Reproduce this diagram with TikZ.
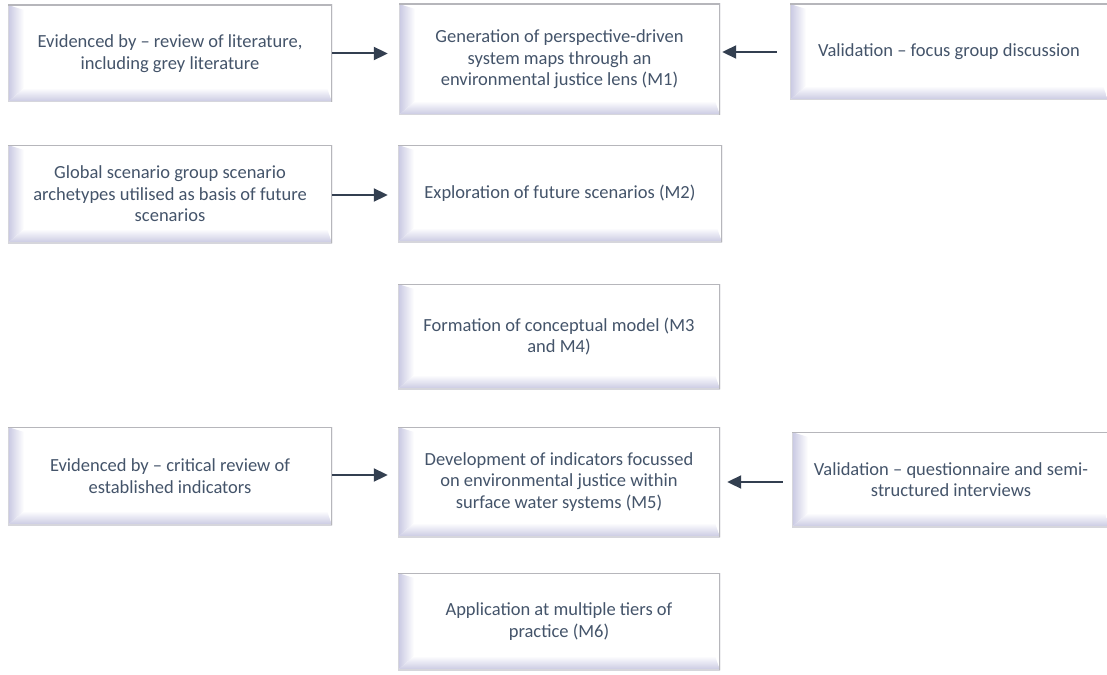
\documentclass[tikz,border=0pt]{standalone}
\usepackage{fontspec}
\setmainfont{Carlito}
\usetikzlibrary{arrows.meta,calc}

\definecolor{txt}{HTML}{44546A}
\definecolor{arrowc}{HTML}{333F50}
\definecolor{lav}{RGB}{200,200,226}
\definecolor{rim}{RGB}{214,214,220}

\tikzset{
  bevel/.style={
    fill=white, inner sep=0pt, align=center, text=txt,
    font=\fontsize{18.5}{21.5}\selectfont,
    path picture={
      \path (path picture bounding box.south west) coordinate (bSW)
            (path picture bounding box.north east) coordinate (bNE);
      \path (bSW |- bNE) coordinate (bNW) (bNE |- bSW) coordinate (bSE);
      % shaded left face
      \shade[left color=lav, right color=white]
        (bSW) -- (bNW) -- ([shift={(16pt,-5pt)}]bNW)
        -- ([shift={(16pt,14pt)}]bSW) -- cycle;
      % shaded bottom face
      \shade[bottom color=lav, top color=white]
        (bSW) -- ([shift={(16pt,14pt)}]bSW)
        -- ([shift={(-5pt,14pt)}]bSE) -- (bSE) -- cycle;
      % outer rim
      \draw[rim, line width=1.2pt] (bSW) rectangle (bNE);
      \draw[rim!85!black, line width=1.5pt] (bNW) -- (bNE) -- (bSE);
    }
  },
  link/.style={arrowc, line width=2pt, -{Triangle[length=14pt,width=13pt]}}
}

\begin{document}
\begin{tikzpicture}[x=1pt,y=-1pt]
  \fill[white] (0,0) rectangle (1107,674);
  \useasboundingbox (0,0) rectangle (1107,674);

  % row 1
  \node[bevel, minimum width=324pt, minimum height=97pt] (ev1) at (170,53.5)
    {Evidenced by – review of literature,\\including grey literature};
  \node[bevel, minimum width=321pt, minimum height=111pt] (m1) at (559.5,59.5)
    {Generation of perspective-driven\\system maps through an\\environmental justice lens (M1)};
  \node[bevel, minimum width=318pt, minimum height=96pt] (va1) at (949,52)
    {Validation – focus group discussion};

  % row 2
  \node[bevel, minimum width=324pt, minimum height=98pt] (gs) at (170,194)
    {Global scenario group scenario\\archetypes utilised as basis of future\\scenarios};
  \node[bevel, minimum width=324pt, minimum height=97pt] (m2) at (560,193.5)
    {Exploration of future scenarios (M2)};

  % row 3
  \node[bevel, minimum width=322pt, minimum height=105pt] (m3) at (559,336.5)
    {Formation of conceptual model (M3\\and M4)};

  % row 4
  \node[bevel, minimum width=324pt, minimum height=98pt] (ev2) at (170,476)
    {Evidenced by – critical review of\\established indicators};
  \node[bevel, minimum width=322pt, minimum height=110pt] (m5) at (559,482)
    {Development of indicators focussed\\on environmental justice within\\surface water systems (M5)};
  \node[bevel, minimum width=318pt, minimum height=95pt] (va2) at (951,479.5)
    {Validation – questionnaire and semi-\\structured interviews};

  % row 5
  \node[bevel, minimum width=322pt, minimum height=97pt] (m6) at (559,621.5)
    {Application at multiple tiers of\\practice (M6)};

  % connectors
  \draw[link, shorten >=11pt] (ev1.east) -- (ev1.east -| m1.west);
  \draw[link, shorten >=2pt] ([xshift=-13pt]va1.west) -- (va1.west -| m1.east);
  \draw[link, shorten >=10pt] ([yshift=-1pt]gs.east) -- ([yshift=-1pt]gs.east -| m2.west);
  \draw[link, shorten >=10pt] ([yshift=1pt]ev2.east) -- ([yshift=1pt]ev2.east -| m5.west);
  \draw[link, shorten >=7pt] ([xshift=-9pt,yshift=-2.5pt]va2.west) -- ([yshift=-2.5pt]va2.west -| m5.east);
\end{tikzpicture}
\end{document}
